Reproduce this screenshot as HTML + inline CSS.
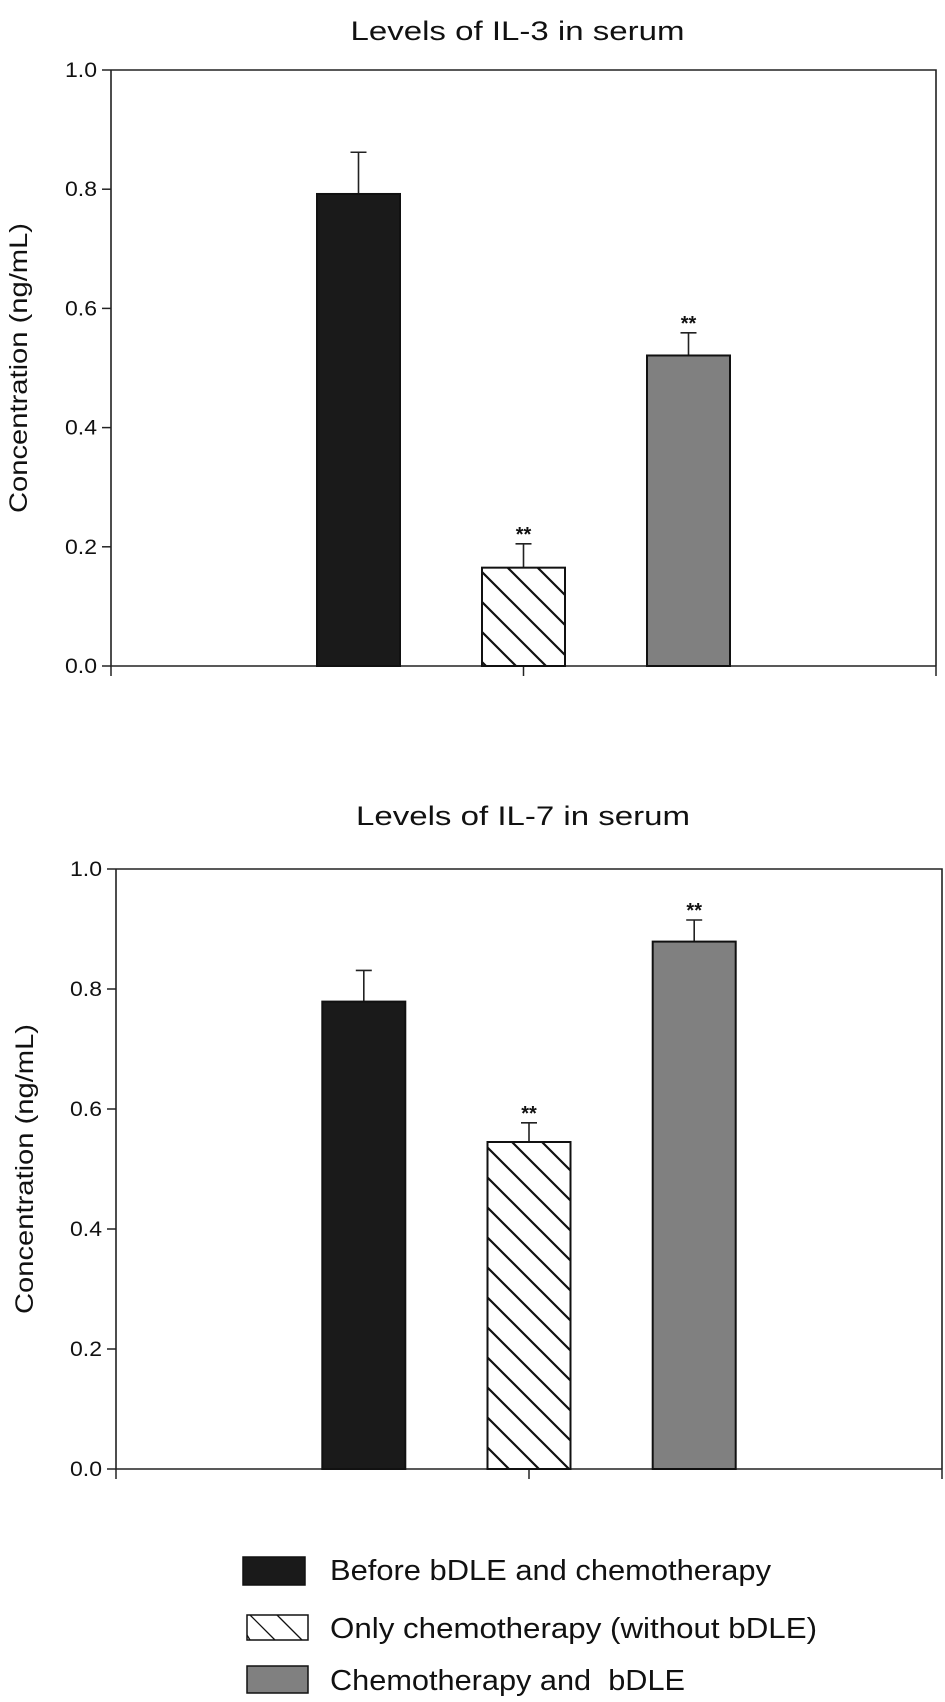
<!DOCTYPE html>
<html><head><meta charset="utf-8"><style>
html,body{margin:0;padding:0;background:#fff;}
svg{display:block;font-family:"Liberation Sans",Arial,sans-serif;}
</style></head><body>
<svg id="fig" width="945" height="1702" viewBox="0 0 945 1702" xmlns="http://www.w3.org/2000/svg">
<defs>
<pattern id="hatch" patternUnits="userSpaceOnUse" width="30" height="30">
<path d="M-8,-8 L38,38 M-38,-8 L8,38 M22,-8 L68,38" stroke="#111" stroke-width="2.2"/>
</pattern>
</defs>
</svg>
<script>
const categories = ["Before bDLE and chemotherapy", "Only chemotherapy (without bDLE)", "Chemotherapy and bDLE"];
const il3Values = [0.792, 0.165, 0.521];
const il3Errors = [0.070, 0.040, 0.038];
const il3Sig = ["", "**", "**"];
const il7Values = [0.779, 0.545, 0.879];
const il7Errors = [0.052, 0.032, 0.036];
const il7Sig = ["", "**", "**"];
const yTicks = [0, 0.2, 0.4, 0.6, 0.8, 1.0];
const yTickLabels = ["0.0", "0.2", "0.4", "0.6", "0.8", "1.0"];
const fills = ["#1a1a1a", "url(#hatch)", "#808080"];

const NS = "http://www.w3.org/2000/svg";
const svg = document.getElementById("fig");
function el(tag, attrs, parent) {
  const e = document.createElementNS(NS, tag);
  for (const k in attrs) e.setAttribute(k, attrs[k]);
  (parent || svg).appendChild(e);
  return e;
}

function drawChart(opt) {
  const g = el("g", {});
  
  
  const L = opt.left, R = opt.right, T = opt.top, B = opt.bottom;
  const y = v => B - v * (B - T);
  const slot = (R - L) / 5;
  const x = i => L + slot * (i + 1.5);
  const bw = 83;

  const title = el("text", {x: (L + R) / 2 - 6, y: opt.titleY, "text-anchor": "middle", "font-size": 27, fill: "#111", textLength: 334, lengthAdjust: "spacingAndGlyphs"}, g);
  title.textContent = opt.title;
  
  

  const yt = el("text", {transform: `translate(${opt.ytX},${(T + B) / 2}) rotate(-90)`, "text-anchor": "middle", "font-size": 25, fill: "#111", textLength: 290, lengthAdjust: "spacingAndGlyphs"}, g);
  yt.textContent = "Concentration (ng/mL)";
  
  

  const frame = el("path", {d: `M${L},${T} H${R} V${B} M${L},${T} V${B} H${R}`, fill: "none", stroke: "#222", "stroke-width": 1.6}, g);
  
  

  yTicks.forEach((t, i) => {
    const tk = el("line", {x1: L - 9, x2: L, y1: y(t), y2: y(t), stroke: "#222", "stroke-width": 1.5}, g);
    
    
    const lb = el("text", {x: L - 14, y: y(t) + 7, "text-anchor": "end", "font-size": 21, fill: "#111", textLength: 32, lengthAdjust: "spacingAndGlyphs"}, g);
    lb.textContent = yTickLabels[i];
    
    
  });
  [L, x(1), R].forEach(px => {
    const xt = el("line", {x1: px, x2: px, y1: B, y2: B + 10, stroke: "#222", "stroke-width": 1.5}, g);
    
    
  });

  opt.values.forEach((v, i) => {
    const cx = x(i);
    const ytop = y(v + opt.errors[i]);
    const eb = el("path", {d: `M${cx},${y(v)} V${ytop} M${cx - 8},${ytop} H${cx + 8}`, stroke: "#222", "stroke-width": 1.6, fill: "none"}, g);
    
    
    const r = el("rect", {x: cx - bw / 2, y: y(v), width: bw, height: B - y(v), fill: fills[i], stroke: "#111", "stroke-width": 2}, g);
    
    
    if (opt.sig[i]) {
      const s = el("text", {x: cx, y: ytop - 3, "text-anchor": "middle", "font-size": 20, "font-weight": "bold", fill: "#111"}, g);
      s.textContent = opt.sig[i];
      
      
    }
  });
}

drawChart({name: "il3-chart", title: "Levels of IL-3 in serum", left: 111, right: 936, top: 70, bottom: 666, titleY: 40, ytX: 27, values: il3Values, errors: il3Errors, sig: il3Sig});
drawChart({name: "il7-chart", title: "Levels of IL-7 in serum", left: 116, right: 942, top: 869, bottom: 1469, titleY: 825, ytX: 33, values: il7Values, errors: il7Errors, sig: il7Sig});

const leg = el("g", {});


const boxes = [[243, 1557, 62, 28], [247, 1615, 61, 25], [247, 1666, 61, 27]];
const textY = [1580, 1638, 1690];
const textW = [441, 487, 355];
const legLabels = ["Before bDLE and chemotherapy", "Only chemotherapy (without bDLE)", "Chemotherapy and\u00a0 bDLE"];
boxes.forEach((b, i) => {
  const r = el("rect", {x: b[0], y: b[1], width: b[2], height: b[3], fill: i === 1 ? "#fff" : fills[i], stroke: "#111", "stroke-width": 1.5}, leg);
  
  
  if (i === 1) {
    const h = el("path", {d: `M${b[0]+3},${b[1]} L${b[0]+28},${b[1]+b[3]} M${b[0]+30},${b[1]} L${b[0]+55},${b[1]+b[3]} M${b[0]},${b[1]+b[3]-5} L${b[0]+3},${b[1]+b[3]}`, stroke: "#111", "stroke-width": 1.3}, leg);
    
    
  }
  const t = el("text", {x: 330, y: textY[i], "font-size": 29, fill: "#111", textLength: textW[i], lengthAdjust: "spacingAndGlyphs"}, leg);
  t.textContent = legLabels[i];
  
  
});
</script>
</body></html>
